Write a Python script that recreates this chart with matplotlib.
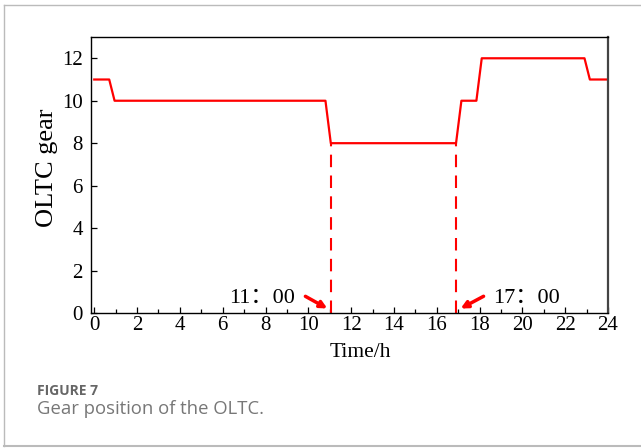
import matplotlib
matplotlib.use('Agg')
import matplotlib.pyplot as plt
from matplotlib.lines import Line2D

# gear profile
hours = [0, 0.7, 0.95, 10.8, 11.05, 16.9, 17.15, 17.85, 18.1, 22.9, 23.15, 24]
gear = [11, 11, 10, 10, 8, 8, 10, 10, 12, 12, 11, 11]

switch_times = [11.05, 16.9]
switch_labels = ['11：00', '17：00']

plt.rcParams['font.family'] = ['Liberation Serif', 'Noto Sans CJK SC']

fig = plt.figure(figsize=(6.41, 4.48), dpi=100)
ax = fig.add_axes([0.142, 0.3013, 0.8066, 0.616])

ax.plot(hours, gear, color='red', lw=1.6)
for t in switch_times:
    ax.plot([t, t], [0, 8], color='red', lw=1.5, dashes=(6, 4))

# arrows pointing at the switch times
ax.annotate('', xy=(11.0, 0.15), xytext=(9.75, 0.85),
            arrowprops=dict(arrowstyle='-|>', color='red', lw=2.5, mutation_scale=10))
ax.annotate('', xy=(17.0, 0.15), xytext=(18.3, 0.85),
            arrowprops=dict(arrowstyle='-|>', color='red', lw=2.5, mutation_scale=10))
ax.text(9.4, 0.68, switch_labels[0], ha='right', va='center', fontsize=16)
ax.text(18.65, 0.68, switch_labels[1], ha='left', va='center', fontsize=16)

ax.set_xlim(-0.15, 24)
ax.set_ylim(0, 13)
ax.set_xticks(range(0, 25, 2))
ax.set_xticks(range(0, 25), minor=True)
ax.set_yticks(range(0, 13, 2))
ax.tick_params(direction='in', labelsize=15, length=4, width=0.9)
ax.tick_params(which='minor', direction='in', length=3, width=0.9)
ax.tick_params(axis='x', pad=2)
ax.tick_params(axis='y', pad=6)
for s in ax.spines.values():
    s.set_linewidth(1.0)
ax.spines['right'].set_color('#444444')
ax.spines['right'].set_linewidth(1.6)

ax.set_xlabel('Time/h', fontsize=15.5)
ax.xaxis.set_label_coords(0.52, -0.11)
ax.set_ylabel('OLTC gear', fontsize=19)
ax.yaxis.set_label_coords(-0.063, 0.525)

# figure frame and caption
fig.add_artist(Line2D([4/641, 4/641], [2/448, 443/448], color='#bbbbbb', lw=1.0))
fig.add_artist(Line2D([4/641, 1], [443/448, 443/448], color='#bbbbbb', lw=1.0))
fig.add_artist(Line2D([4/641, 1], [2/448, 2/448], color='#bbbbbb', lw=1.5))
fig.text(37/641, 1 - 391/448, 'FIGURE 7', fontsize=10, color='#666666',
         family='Open Sans', fontweight='bold', va='center')
fig.text(37/641, 1 - 409/448, 'Gear position of the OLTC.', fontsize=13.3,
         color='#777777', family='Open Sans', va='center')

fig.savefig('out.png', dpi=100)
